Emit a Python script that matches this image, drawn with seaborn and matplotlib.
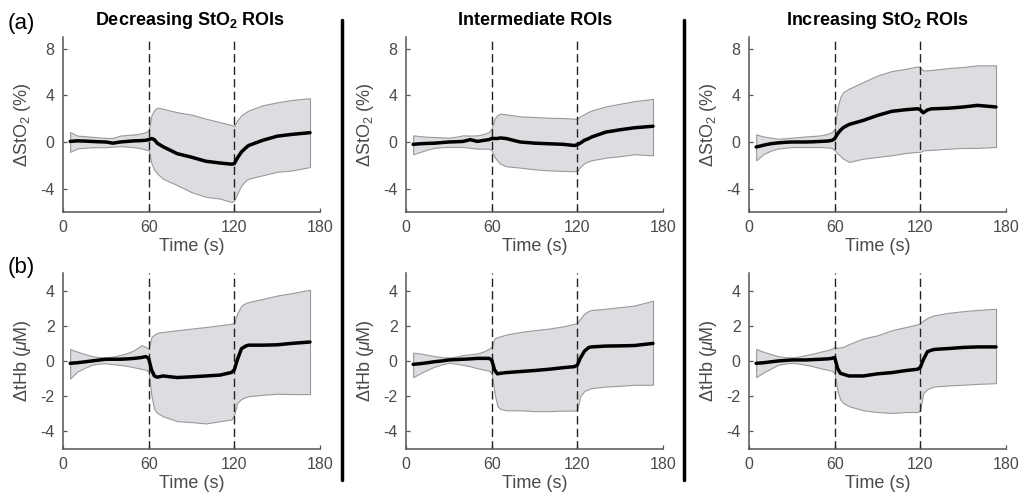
import numpy as np
import pandas as pd
import matplotlib
matplotlib.use("Agg")
import matplotlib.pyplot as plt
import seaborn as sns

# ---------------- data ----------------
TIME = [5, 10, 15, 20, 25, 30, 35, 40, 45, 50, 55, 58, 60, 62, 64, 66, 70, 80, 90, 100,
        110, 118, 120, 122, 125, 128, 130, 140, 150, 160, 173]

# (a) Decreasing StO2 ROIs - StO2 (%)
DEC_STO2_MEAN = [0.05, 0.1, 0.08, 0.05, 0.02, 0.0, -0.1, 0.0, 0.05, 0.1, 0.12, 0.15, 0.2, 0.3, 0.2, -0.1, -0.4, -1.0, -1.3, -1.65,
                 -1.8, -1.9, -1.85, -1.4, -0.85, -0.5, -0.3, 0.15, 0.5, 0.65, 0.8]
DEC_STO2_UP = [0.85, 0.55, 0.5, 0.45, 0.4, 0.35, 0.35, 0.55, 0.6, 0.65, 0.75, 0.85, 1.0, 2.3, 2.75, 2.95, 2.85, 2.55, 2.35, 2.0,
               1.7, 1.45, 1.35, 1.85, 2.3, 2.55, 2.7, 3.15, 3.4, 3.6, 3.75]
DEC_STO2_LO = [-0.85, -0.55, -0.5, -0.45, -0.45, -0.45, -0.4, -0.35, -0.4, -0.45, -0.55, -0.65, -0.7, -1.85, -2.4, -2.7, -3.15, -3.7, -4.3, -4.7,
               -4.85, -5.15, -5.0, -4.45, -3.7, -3.3, -3.15, -2.85, -2.55, -2.45, -2.15]
# (b) Decreasing StO2 ROIs - tHb (uM)
DEC_THB_MEAN = [-0.13, -0.1, -0.05, 0.0, 0.05, 0.1, 0.1, 0.1, 0.12, 0.15, 0.2, 0.25, 0.15, -0.5, -0.85, -0.92, -0.85, -0.94, -0.9, -0.85,
                -0.8, -0.65, -0.5, 0.05, 0.7, 0.85, 0.9, 0.9, 0.92, 1.0, 1.08]
DEC_THB_UP = [0.68, 0.53, 0.4, 0.28, 0.22, 0.2, 0.25, 0.34, 0.45, 0.62, 0.9, 0.8, 0.7, 1.37, 1.5, 1.6, 1.65, 1.75, 1.84, 1.93,
              2.03, 2.12, 2.16, 2.7, 3.15, 3.3, 3.35, 3.53, 3.72, 3.85, 4.05]
DEC_THB_LO = [-1.0, -0.6, -0.4, -0.22, -0.15, -0.13, -0.18, -0.22, -0.28, -0.36, -0.45, -0.5, -0.6, -2.0, -2.76, -2.95, -3.14, -3.42, -3.47, -3.55,
              -3.42, -3.32, -3.04, -2.38, -2.15, -2.05, -2.0, -1.92, -1.86, -1.88, -1.88]

# Intermediate ROIs
INT_STO2_MEAN = [-0.2, -0.15, -0.12, -0.1, -0.05, 0.0, 0.02, 0.05, 0.2, 0.05, 0.15, 0.2, 0.3, 0.3, 0.3, 0.35, 0.3, 0.0, -0.1, -0.15,
                 -0.2, -0.3, -0.23, -0.1, 0.15, 0.3, 0.43, 0.85, 1.05, 1.22, 1.35]
INT_STO2_UP = [0.57, 0.5, 0.45, 0.43, 0.4, 0.37, 0.45, 0.57, 0.55, 0.57, 0.7, 0.85, 1.15, 2.0, 2.3, 2.43, 2.37, 2.2, 2.14, 2.08,
               2.05, 2.0, 2.0, 2.2, 2.4, 2.6, 2.7, 3.05, 3.28, 3.5, 3.7]
INT_STO2_LO = [-1.05, -0.85, -0.65, -0.5, -0.45, -0.43, -0.42, -0.43, -0.5, -0.57, -0.57, -0.57, -0.7, -1.28, -1.6, -1.85, -2.08, -2.2, -2.34, -2.43,
               -2.48, -2.5, -2.48, -2.14, -1.8, -1.65, -1.57, -1.34, -1.22, -1.05, -1.14]
INT_THB_MEAN = [-0.19, -0.15, -0.1, -0.04, 0.0, 0.06, 0.08, 0.1, 0.12, 0.15, 0.15, 0.15, 0.06, -0.5, -0.73, -0.7, -0.66, -0.6, -0.54, -0.47,
                -0.38, -0.32, -0.23, 0.15, 0.56, 0.77, 0.8, 0.85, 0.86, 0.88, 1.0]
INT_THB_UP = [0.47, 0.43, 0.35, 0.28, 0.22, 0.2, 0.25, 0.34, 0.38, 0.43, 0.56, 0.7, 0.8, 1.28, 1.35, 1.4, 1.5, 1.65, 1.75, 1.84,
              1.97, 2.12, 2.16, 2.4, 2.7, 2.85, 2.9, 2.97, 3.06, 3.15, 3.43]
INT_THB_LO = [-0.92, -0.7, -0.5, -0.32, -0.2, -0.1, -0.15, -0.22, -0.3, -0.41, -0.5, -0.55, -0.7, -1.82, -2.57, -2.72, -2.8, -2.8, -2.85, -2.85,
              -2.82, -2.82, -2.76, -2.0, -1.7, -1.6, -1.54, -1.45, -1.41, -1.35, -1.35]

# Increasing StO2 ROIs
INC_STO2_MEAN = [-0.43, -0.28, -0.15, -0.08, -0.03, 0.0, 0.0, 0.0, 0.02, 0.05, 0.08, 0.14, 0.28, 0.7, 1.0, 1.23, 1.5, 1.85, 2.28, 2.63,
                 2.77, 2.85, 2.77, 2.5, 2.75, 2.85, 2.85, 2.9, 3.0, 3.14, 3.0]
INC_STO2_UP = [0.65, 0.48, 0.38, 0.28, 0.32, 0.37, 0.42, 0.48, 0.52, 0.57, 0.7, 0.85, 1.14, 3.0, 3.86, 4.28, 4.57, 5.14, 5.7, 6.08,
               6.28, 6.48, 6.37, 6.14, 6.15, 6.18, 6.2, 6.34, 6.43, 6.57, 6.57]
INC_STO2_LO = [-1.57, -1.05, -0.75, -0.57, -0.5, -0.43, -0.43, -0.43, -0.43, -0.43, -0.47, -0.51, -0.71, -1.0, -1.2, -1.43, -1.71, -1.43, -1.28, -1.14,
               -0.94, -0.85, -0.85, -0.71, -0.69, -0.67, -0.66, -0.57, -0.51, -0.51, -0.43]
INC_THB_MEAN = [-0.13, -0.1, -0.05, 0.0, 0.03, 0.06, 0.06, 0.06, 0.08, 0.1, 0.12, 0.15, 0.2, -0.41, -0.7, -0.75, -0.85, -0.85, -0.73, -0.66,
                -0.54, -0.47, -0.36, 0.06, 0.53, 0.62, 0.66, 0.71, 0.77, 0.8, 0.8]
INC_THB_UP = [0.68, 0.53, 0.4, 0.28, 0.22, 0.2, 0.25, 0.34, 0.42, 0.53, 0.62, 0.7, 0.8, 0.75, 0.78, 0.8, 0.96, 1.28, 1.46, 1.75,
              1.93, 2.08, 2.16, 2.3, 2.45, 2.55, 2.6, 2.74, 2.83, 2.9, 2.97]
INC_THB_LO = [-0.92, -0.66, -0.45, -0.22, -0.15, -0.1, -0.15, -0.22, -0.3, -0.41, -0.5, -0.55, -0.7, -1.73, -2.2, -2.38, -2.57, -2.8, -2.9, -2.95,
              -2.9, -2.9, -2.76, -1.82, -1.6, -1.5, -1.45, -1.39, -1.35, -1.3, -1.26]

COLUMN_TITLES = [r"Decreasing StO$_\mathbf{2}$ ROIs", "Intermediate ROIs", r"Increasing StO$_\mathbf{2}$ ROIs"]
ROW_TAGS = ["(a)", "(b)"]
STIM_TIMES = [60, 120]
X_TICKS = [0, 60, 120, 180]
STO2_TICKS = [-4, 0, 4, 8]
THB_TICKS = [-4, -2, 0, 2, 4]
STO2_LABEL = "ΔStO$_2$ (%)"
THB_LABEL = r"ΔtHb ($\mu$M)"

# ---------------- style ----------------
sns.set_style("ticks")
plt.rcParams["font.family"] = ["Liberation Sans", "DejaVu Sans"]
plt.rcParams["mathtext.fontset"] = "custom"
plt.rcParams["mathtext.rm"] = "Liberation Sans"
plt.rcParams["mathtext.it"] = "Liberation Sans:italic"
plt.rcParams["mathtext.bf"] = "Liberation Sans:bold"
plt.rcParams["axes.unicode_minus"] = False

GRAY_TXT = "#4a4a4a"
AX_COL = "#555555"

fig = plt.figure(figsize=(10.21, 4.99), dpi=100)

lefts = [63 / 1021, 406 / 1021, 749 / 1021]
width = 257 / 1021
rows = [(1 - 212 / 499, 175 / 499), (1 - 449 / 499, 176 / 499)]
centers = [190, 535, 877]

panels = [
    [(DEC_STO2_MEAN, DEC_STO2_UP, DEC_STO2_LO), (INT_STO2_MEAN, INT_STO2_UP, INT_STO2_LO), (INC_STO2_MEAN, INC_STO2_UP, INC_STO2_LO)],
    [(DEC_THB_MEAN, DEC_THB_UP, DEC_THB_LO), (INT_THB_MEAN, INT_THB_UP, INT_THB_LO), (INC_THB_MEAN, INC_THB_UP, INC_THB_LO)],
]

for r in range(2):
    bottom, height = rows[r]
    for c in range(3):
        ax = fig.add_axes([lefts[c], bottom, width, height])
        mean, up, lo = panels[r][c]
        df = pd.DataFrame({"t": TIME, "mean": mean, "up": up, "lo": lo})
        ax.fill_between(df["t"], df["lo"], df["up"], facecolor="#dcdde0", edgecolor="#9a9a9a", linewidth=0.8, zorder=1)
        sns.lineplot(data=df, x="t", y="mean", ax=ax, color="black", linewidth=2.5, zorder=3)
        for s in STIM_TIMES:
            ax.axvline(s, color="#222222", linestyle=(0, (6, 3)), linewidth=1.0, zorder=2)
        ax.set_xlim(0, 180)
        ax.set_xticks(X_TICKS)
        if r == 0:
            ax.set_ylim(-6, 9)
            ax.set_yticks(STO2_TICKS)
            ax.set_ylabel(STO2_LABEL, fontsize=13, color=GRAY_TXT, labelpad=5)
        else:
            ax.set_ylim(-5, 5)
            ax.set_yticks(THB_TICKS)
            ax.set_ylabel(THB_LABEL, fontsize=13, color=GRAY_TXT, labelpad=5)
        ax.set_xlabel("Time (s)", fontsize=13, color=GRAY_TXT, labelpad=2)
        sns.despine(ax=ax)
        for sp in ["left", "bottom"]:
            ax.spines[sp].set_color(AX_COL)
            ax.spines[sp].set_linewidth(1.1)
        ax.tick_params(direction="in", length=3, width=0.9, color=AX_COL, labelcolor=GRAY_TXT, labelsize=11.5, pad=6)
        if r == 0:
            fig.text(centers[c] / 1021, 1 - 25 / 499, COLUMN_TITLES[c], fontsize=13, fontweight="bold",
                     ha="center", va="baseline", color="black")

# row tags
fig.text(8 / 1021, 1 - 23 / 499, ROW_TAGS[0], fontsize=16, va="center", ha="left", color="black")
fig.text(8 / 1021, 1 - 267 / 499, ROW_TAGS[1], fontsize=16, va="center", ha="left", color="black")

# separators
for xs in [342 / 1021, 684 / 1021]:
    fig.add_artist(plt.Line2D([xs, xs], [1 - 480 / 499, 1 - 20 / 499], color="black", linewidth=2.5, transform=fig.transFigure))

fig.savefig("out.png", dpi=100)
